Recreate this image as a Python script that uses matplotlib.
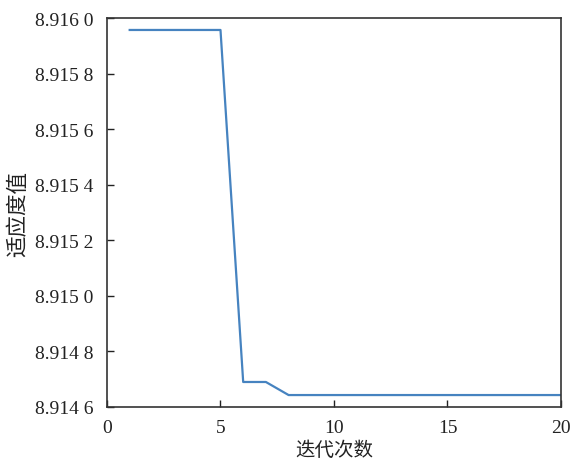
import numpy as np
import matplotlib
matplotlib.use('Agg')
import matplotlib.pyplot as plt
from matplotlib.ticker import FuncFormatter

plt.rcParams['font.family'] = ['Liberation Serif', 'Noto Sans CJK SC']
plt.rcParams['axes.unicode_minus'] = False

# 迭代次数 / 适应度值
iters = [1, 2, 3, 4, 5, 6, 7, 8, 9, 10, 11, 12, 13, 14, 15, 16, 17, 18, 19, 20]
fitness = [8.915957, 8.915957, 8.915957, 8.915957, 8.915957,
           8.914690, 8.914690, 8.914643, 8.914643, 8.914643,
           8.914643, 8.914643, 8.914643, 8.914643, 8.914643,
           8.914643, 8.914643, 8.914643, 8.914643, 8.914643]
x_ticks = [0, 5, 10, 15, 20]
y_ticks = [8.9146, 8.9148, 8.9150, 8.9152, 8.9154, 8.9156, 8.9158, 8.9160]

fig = plt.figure(figsize=(5.7, 4.64), dpi=100)
ax = fig.add_axes([0.1877, 0.1207, 0.7965, 0.8383])
ax.plot(iters, fitness, color='#4683c0', lw=1.6)

ax.set_xlim(0, 20)
ax.set_ylim(8.9146, 8.9160)
ax.set_xticks(x_ticks)
ax.set_yticks(y_ticks)

def fmt(v, pos):
    s = '%.4f' % v
    return s[:-1] + ' ' + s[-1]
ax.yaxis.set_major_formatter(FuncFormatter(fmt))

ax.tick_params(direction='in', length=5, width=1, labelsize=14, colors='#222222')
ax.tick_params(axis='x', pad=9)
ax.tick_params(axis='y', pad=10)
for sp in ax.spines.values():
    sp.set_color('#333333')
    sp.set_linewidth(1.2)

ax.set_xlabel('迭代次数', fontsize=14, family=['Noto Sans CJK SC'], labelpad=2, color='#222222')
ax.set_ylabel('适应度值', fontsize=15.5, family=['Noto Sans CJK SC'], labelpad=4, color='#222222')

plt.savefig('out.png', dpi=100)
